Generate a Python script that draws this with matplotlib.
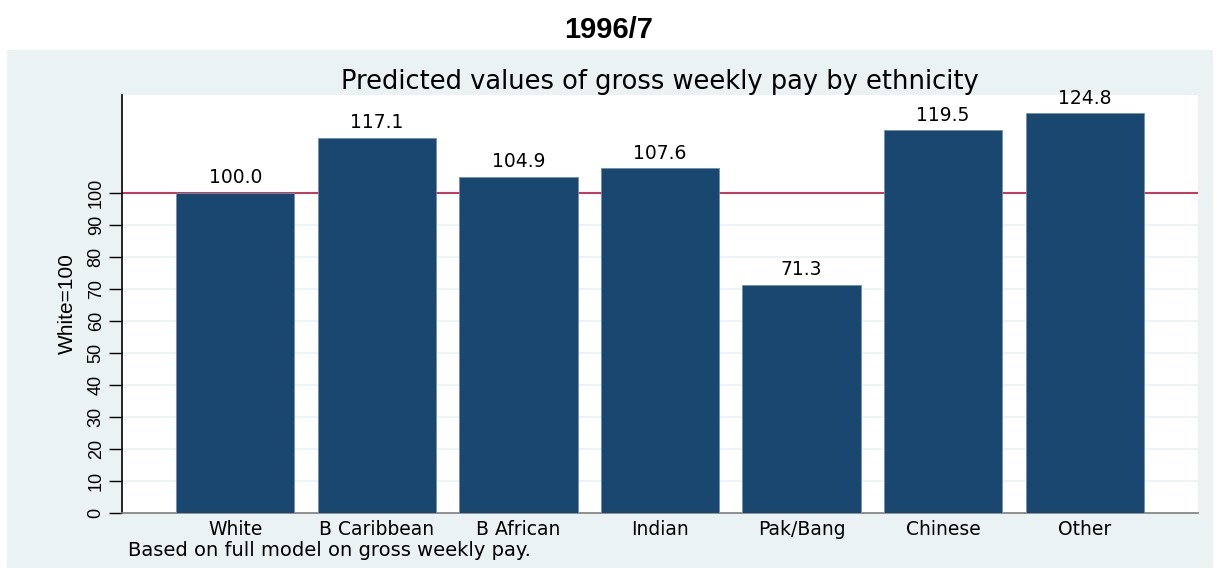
import matplotlib.pyplot as plt
from matplotlib.patches import Rectangle

groups = ['White', 'B Caribbean', 'B African', 'Indian', 'Pak/Bang', 'Chinese', 'Other']
values = [100.0, 117.1, 104.9, 107.6, 71.3, 119.5, 124.8]
yticks = list(range(0, 101, 10))

plt.rcParams['font.family'] = ['Liberation Sans', 'DejaVu Sans']
wide = ['DejaVu Sans']  # the original text is set wide, DejaVu is the closest
narrow = ['Liberation Sans Narrow', 'Liberation Sans', 'DejaVu Sans']

bar_color = '#1a476f'
panel_color = '#eaf2f3'
ref_color = '#c8103c'

fig = plt.figure(figsize=(12.19, 5.72), dpi=100)
W, H = 1219, 572

# light panel behind the plot (Stata-like graph region)
fig.patches.append(Rectangle((7 / W, 1 - 568 / H), (1213 - 7) / W, (568 - 50) / H,
                             transform=fig.transFigure, facecolor=panel_color,
                             edgecolor='none', zorder=-5))

ax = fig.add_axes([122 / W, 1 - 513 / H, (1198 - 122) / W, (513 - 95) / H])
ax.set_zorder(2)
ax.set_facecolor('white')

x = range(len(groups))
ax.bar(x, values, width=0.835, color=bar_color, edgecolor='#6d8fb0',
       linewidth=0.6, zorder=3)
ax.axhline(100, color=ref_color, linewidth=1.2, zorder=2)

for xi, v in zip(x, values):
    ax.annotate(f'{v:.1f}', (xi, v), xytext=(0, 4), textcoords='offset points',
                ha='center', va='bottom', fontsize=13.5, family=wide,
                annotation_clip=False, zorder=4)

ax.set_xlim(-0.8, 6.8)
ax.set_ylim(0, 130.5)
ax.set_yticks(yticks)
ax.set_yticklabels([str(t) for t in yticks], rotation=90, va='center',
                   fontsize=13, family=narrow)
ax.grid(axis='y', color=panel_color, linewidth=1.2, zorder=1)
ax.set_axisbelow(True)

ax.set_xticks(list(x))
ax.set_xticklabels(groups, fontsize=13.5, family=wide)
ax.tick_params(axis='x', length=0, pad=5)
ax.tick_params(axis='y', length=9.5, width=1, pad=3)

for s in ['top', 'right']:
    ax.spines[s].set_visible(False)
ax.spines['left'].set_color('black')
ax.spines['left'].set_linewidth(1.2)
ax.spines['bottom'].set_color('#7f7f7f')
ax.spines['bottom'].set_linewidth(1.2)

ax.set_ylabel('White=100', fontsize=15, family=narrow, labelpad=8)
ax.set_title('Predicted values of gross weekly pay by ethnicity', fontsize=18.5,
             family=wide, pad=2)

fig.text(609 / W, 1 - 30 / H, '1996/7', ha='center', va='center',
         fontsize=21, fontweight='bold', family=narrow)
fig.text(128 / W, 1 - 550 / H, 'Based on full model on gross weekly pay.',
         ha='left', va='center', fontsize=14, family=wide)

fig.savefig('out.png', dpi=100)
